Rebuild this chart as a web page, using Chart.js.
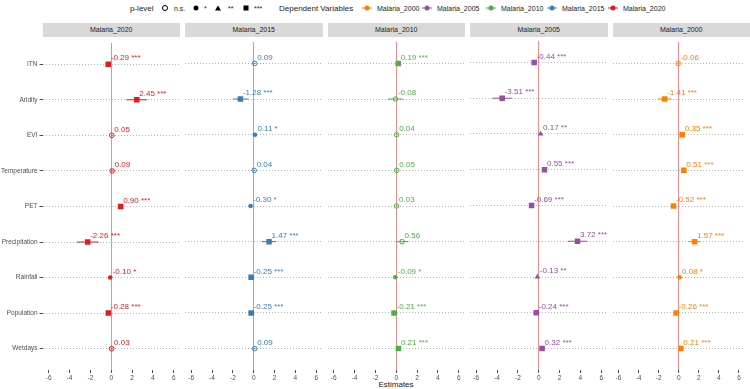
<!DOCTYPE html>
<html>
<head>
<meta charset="utf-8">
<script src="https://cdn.jsdelivr.net/npm/chart.js@4.4.1/dist/chart.umd.min.js"></script>
<style>
  body { margin: 0; background: #fff; font-family: "Liberation Sans", Arial, sans-serif; }
  #wrap { position: relative; width: 750px; height: 389px; overflow: hidden; background: #fff; }
  #wrap canvas { position: absolute; left: 0; top: 37px; }
  .strip { position: absolute; top: 23px; height: 14px; line-height: 14px; background: #d9d9d9;
           color: #1a1a1a; font-size: 7px; text-align: center; }
  .lg { position: absolute; top: 8px; transform: translateY(-50%); white-space: nowrap; color: #1a1a1a; font-size: 7px; }
  .lg.title { font-size: 8px; }
  .sym { position: absolute; top: 8px; transform: translate(-50%, -50%); }
  #xtitle { position: absolute; left: 396px; top: 384px; transform: translate(-50%, -50%); font-size: 8px; color: #1a1a1a; }
</style>
</head>
<body>
<div id="wrap">
  <div id="legend"></div>
  <div id="xtitle">Estimates</div>
</div>
<script>
// rows (top to bottom) and facets (left to right)
const variables = ['ITN', 'Aridity', 'EVI', 'Temperature', 'PET', 'Precipitation', 'Rainfall', 'Population', 'Wetdays'];
const panels = ['Malaria_2020', 'Malaria_2015', 'Malaria_2010', 'Malaria_2005', 'Malaria_2000'];
const panelColors = ['#E41A1C', '#377EB8', '#4DAF4A', '#984EA3', '#FF7F00'];
const xTicks = [-6, -4, -2, 0, 2, 4, 6];

const est2020 = [-0.29, 2.45, 0.05, 0.09, 0.90, -2.26, -0.10, -0.28, 0.03];
const sig2020 = ['***', '***', '', '', '***', '***', '*', '***', ''];
const lo2020  = [-0.37, 1.45, -0.03, 0.00, 0.75, -3.30, -0.18, -0.35, -0.05];
const hi2020  = [-0.21, 3.45, 0.13, 0.18, 1.05, -1.22, -0.02, -0.21, 0.11];

const est2015 = [0.09, -1.28, 0.11, 0.04, -0.30, 1.47, -0.25, -0.25, 0.09];
const sig2015 = ['', '***', '*', '', '*', '***', '***', '***', ''];
const lo2015  = [0.00, -2.00, 0.02, -0.05, -0.45, 0.78, -0.33, -0.32, 0.00];
const hi2015  = [0.18, -0.50, 0.20, 0.13, -0.15, 2.16, -0.17, -0.18, 0.18];

const est2010 = [0.19, -0.08, 0.04, 0.05, 0.03, 0.56, -0.09, -0.21, 0.21];
const sig2010 = ['***', '', '', '', '', '', '*', '***', '***'];
const lo2010  = [0.12, -0.80, -0.04, -0.04, -0.06, -0.05, -0.17, -0.28, 0.14];
const hi2010  = [0.26, 0.64, 0.12, 0.14, 0.12, 1.17, -0.01, -0.14, 0.28];

const est2005 = [-0.44, -3.51, 0.17, 0.55, -0.69, 3.72, -0.13, -0.24, 0.32];
const sig2005 = ['***', '***', '**', '***', '***', '***', '**', '***', '***'];
const lo2005  = [-0.52, -4.45, 0.06, 0.45, -0.82, 2.80, -0.22, -0.31, 0.24];
const hi2005  = [-0.36, -2.57, 0.28, 0.65, -0.56, 4.64, -0.04, -0.17, 0.40];

const est2000 = [-0.06, -1.41, 0.35, 0.51, -0.52, 1.57, 0.08, -0.26, 0.21];
const sig2000 = ['', '***', '***', '***', '***', '***', '*', '***', '***'];
const lo2000  = [-0.15, -2.10, 0.27, 0.42, -0.62, 0.98, 0.01, -0.33, 0.13];
const hi2000  = [0.03, -0.72, 0.43, 0.60, -0.42, 2.16, 0.15, -0.19, 0.29];

const estimates = [est2020, est2015, est2010, est2005, est2000];
const signif    = [sig2020, sig2015, sig2010, sig2005, sig2000];
const lows      = [lo2020, lo2015, lo2010, lo2005, lo2000];
const highs     = [hi2020, hi2015, hi2010, hi2005, hi2000];

const FONT = '"Liberation Sans", Arial, sans-serif';
const ZERO_LINE = '#F38A8A';
const PANEL_LEFT = 42.5, PANEL_W = 137.5, PANEL_STEP = 142.5, W = 750, H = 352;

const wrap = document.getElementById('wrap');

function shapeFor(s) { return s === '***' ? 'rect' : s === '**' ? 'triangle' : 'circle'; }
function radiusFor(s) { return s === '***' ? 3.9 : s === '**' ? 3.2 : 2.3; }

// estimate + stars text, placed just above-right of each point
const labelPlugin = {
  id: 'estLabels',
  afterDatasetsDraw(chart, args, opts) {
    const { ctx, scales: { x, y } } = chart;
    ctx.save();
    ctx.font = '8px ' + FONT;
    ctx.fillStyle = opts.color;
    ctx.textAlign = 'left';
    ctx.textBaseline = 'middle';
    opts.est.forEach((v, i) => {
      const txt = v.toFixed(2) + (opts.sig[i] ? ' ' + opts.sig[i] : '');
      ctx.fillText(txt, x.getPixelForValue(v) + 2.5, y.getPixelForValue(i) - 6);
    });
    ctx.restore();
  }
};

panels.forEach((name, p) => {
  const left = PANEL_LEFT + p * PANEL_STEP;
  const first = p === 0;
  const color = panelColors[p];
  const est = estimates[p], sig = signif[p];

  const strip = document.createElement('div');
  strip.className = 'strip';
  strip.style.left = left + 'px';
  strip.style.width = PANEL_W + 'px';
  strip.textContent = name;
  wrap.appendChild(strip);

  const canvas = document.createElement('canvas');
  canvas.width = W; canvas.height = H;
  canvas.style.width = W + 'px'; canvas.style.height = H + 'px';
  wrap.appendChild(canvas);

  const datasets = [{
    data: est.map((v, i) => ({ x: v, y: i })),
    pointStyle: sig.map(shapeFor),
    pointRadius: sig.map(radiusFor),
    pointBackgroundColor: sig.map(s => s ? color : 'rgba(0,0,0,0)'),
    pointBorderColor: color,
    pointBorderWidth: sig.map(s => s ? 0 : 1)
  }];
  est.forEach((v, i) => {
    datasets.push({
      data: [{ x: lows[p][i], y: i }, { x: highs[p][i], y: i }],
      showLine: true, borderColor: color, borderWidth: 1, pointRadius: 0
    });
  });

  new Chart(canvas, {
    type: 'scatter',
    data: { datasets },
    plugins: [labelPlugin],
    options: {
      responsive: false,
      animation: false,
      events: [],
      layout: { padding: { left: first ? 0 : left, right: W - left - PANEL_W, top: 0, bottom: 0 } },
      plugins: {
        legend: { display: false },
        tooltip: { enabled: false },
        estLabels: { est, sig, color }
      },
      scales: {
        x: {
          type: 'linear', min: -6.6, max: 6.6,
          afterBuildTicks: s => { s.ticks = xTicks.map(v => ({ value: v })); },
          afterFit: s => { s.height = 19; },
          grid: {
            color: c => (c.tick && c.tick.value === 0) ? ZERO_LINE : 'rgba(0,0,0,0)',
            lineWidth: 1, drawTicks: true, tickLength: 3, tickColor: '#4d4d4d'
          },
          border: { display: false },
          ticks: { font: { size: 6.5, family: FONT }, color: '#4d4d4d', padding: 1, maxRotation: 0, autoSkip: false }
        },
        y: {
          type: 'linear', min: -0.6, max: 8.6, reverse: true,
          afterBuildTicks: s => { s.ticks = variables.map((_, i) => ({ value: i })); },
          afterFit: s => { s.width = first ? PANEL_LEFT : 0; },
          grid: { color: '#b5b5b5', lineWidth: 1, drawTicks: first, tickLength: 3, tickColor: '#4d4d4d' },
          border: { display: false, dash: [1, 2] },
          ticks: {
            display: first, autoSkip: false, padding: 2,
            callback: v => variables[v],
            font: { size: 6.5, family: FONT }, color: '#4d4d4d'
          }
        }
      }
    }
  });
});

// legend row
const legend = document.getElementById('legend');
function addText(txt, x, cls) {
  const el = document.createElement('div');
  el.className = 'lg' + (cls ? ' ' + cls : '');
  el.style.left = x + 'px';
  el.textContent = txt;
  legend.appendChild(el);
}
function addSym(x, css) {
  const el = document.createElement('div');
  el.className = 'sym';
  el.style.left = x + 'px';
  el.style.cssText += css;
  legend.appendChild(el);
}
addText('p-level', 130, 'title');
addSym(165, 'width:4px;height:4px;border:1px solid #000;border-radius:50%;');
addText('n.s.', 174);
addSym(196, 'width:5px;height:5px;background:#000;border-radius:50%;');
addText('*', 204);
addSym(218, 'width:0;height:0;border-left:3px solid transparent;border-right:3px solid transparent;border-bottom:5px solid #000;');
addText('**', 228);
addSym(246, 'width:5px;height:5px;background:#000;');
addText('***', 254);
addText('Dependent Variables', 279, 'title');

const legendOrder = ['Malaria_2000', 'Malaria_2005', 'Malaria_2010', 'Malaria_2015', 'Malaria_2020'];
const legendX = [367, 427, 491, 552, 613];
legendOrder.forEach((name, k) => {
  const c = panelColors[panels.indexOf(name)];
  addSym(legendX[k], `width:10px;height:1px;background:${c};`);
  addSym(legendX[k], `width:5px;height:5px;background:${c};border-radius:50%;`);
  addText(name, legendX[k] + 10);
});
</script>
</body>
</html>
